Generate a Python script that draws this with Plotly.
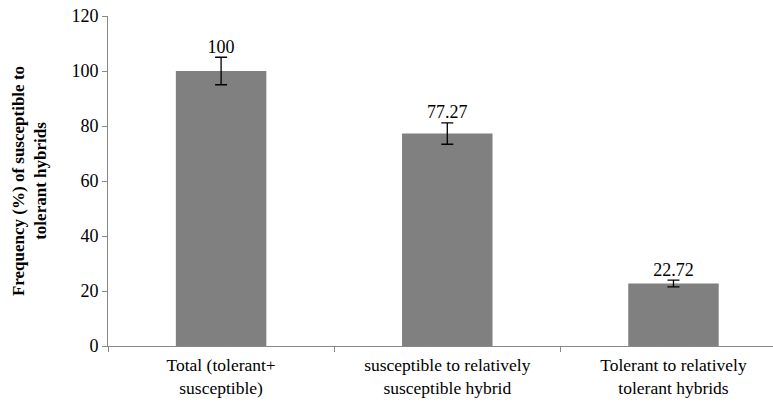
import plotly.graph_objects as go

categories = ["Total (tolerant+<br>susceptible)",
              "susceptible to relatively<br>susceptible hybrid",
              "Tolerant to relatively<br>tolerant hybrids"]
values = [100, 77.27, 22.72]
errors = [5.0, 3.9, 1.2]
labels = ["100", "77.27", "22.72"]
y_ticks = [0, 20, 40, 60, 80, 100, 120]

FONT = "Liberation Serif"

fig = go.Figure()
fig.add_trace(go.Bar(
    x=categories, y=values,
    marker=dict(color="#808080", line=dict(width=0)),
    error_y=dict(type="data", array=errors, visible=True,
                 color="black", thickness=1.3, width=6),
    hoverinfo="skip",
))
fig.add_trace(go.Scatter(
    x=categories, y=[v + e for v, e in zip(values, errors)],
    mode="text", text=labels, textposition="top center",
    textfont=dict(family=FONT, size=18, color="black"),
    hoverinfo="skip",
))

fig.update_layout(
    width=773, height=404,
    margin=dict(l=108, r=0, t=16, b=58, autoexpand=False),
    paper_bgcolor="white", plot_bgcolor="white",
    showlegend=False, bargap=0.6,
    font=dict(family=FONT, size=17, color="black"),
)
fig.update_xaxes(
    type="category", range=[-0.5, 2.44], automargin=False,
    showline=True, linecolor="#888888", linewidth=1,
    ticks="outside", tickson="boundaries", ticklen=5, tickcolor="#888888",
    ticklabelstandoff=3,
    showgrid=False, tickfont=dict(family=FONT, size=17.5, color="black"),
)
fig.update_yaxes(
    range=[0, 120], tickvals=y_ticks, automargin=False,
    showline=True, linecolor="#888888", linewidth=1,
    ticks="outside", ticklen=5, tickcolor="#888888",
    showgrid=False, zeroline=False,
    tickfont=dict(family=FONT, size=18, color="black"),
    title=dict(text="<b>Frequency (%) of susceptible to<br>tolerant hybrids</b>",
               font=dict(family=FONT, size=17, color="black"), standoff=20),
)

fig.write_html("out.html", config={"displayModeBar": False},
               post_script="document.body.style.margin='0';document.body.style.overflow='hidden';")
